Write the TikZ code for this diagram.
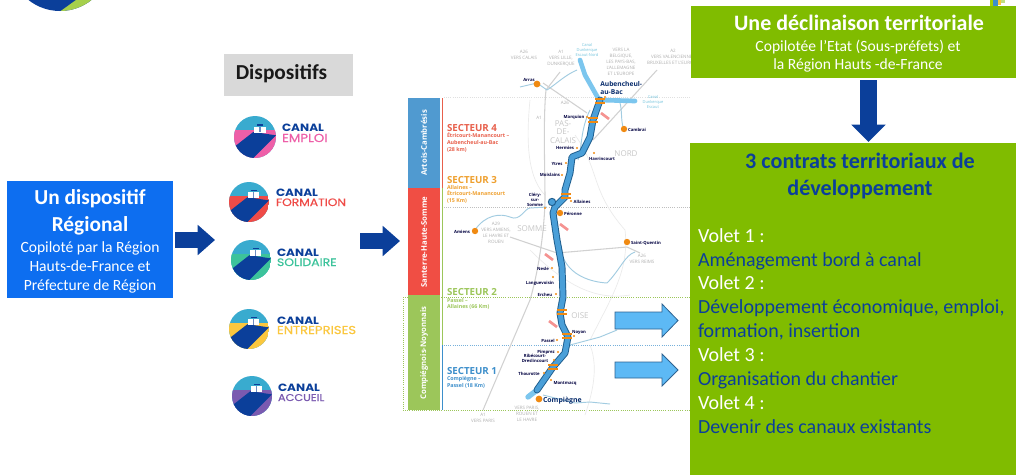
\documentclass[tikz,border=0pt]{standalone}
\usepackage{fontspec}
\setmainfont{Carlito}
\newfontfamily\logofont[FakeStretch=1.15]{Poppins}
\newfontfamily\logomed[FakeBold=0.5,FakeStretch=1.15]{Poppins}
\newfontfamily\mapfont{Open Sans}
\usetikzlibrary{arrows.meta}
\definecolor{cgreen}{HTML}{80BC00}
\definecolor{cblue}{HTML}{0D6EF0}
\definecolor{dkblue}{HTML}{0B3F9A}
\definecolor{sky}{HTML}{39ABCF}
\definecolor{lblue}{HTML}{A8DAF2}
\definecolor{cpink}{HTML}{EE5FA8}
\definecolor{cred}{HTML}{EF4B47}
\definecolor{cmint}{HTML}{3CC39B}
\definecolor{cyellow}{HTML}{FBC73E}
\definecolor{cpurple}{HTML}{7A5AB0}
\definecolor{sec4}{HTML}{E8604C}
\definecolor{sec3}{HTML}{EFA02F}
\definecolor{sec2}{HTML}{9CC65A}
\definecolor{sec1}{HTML}{3D8FCB}
\definecolor{mapgray}{HTML}{B0B0B0}
\definecolor{dot}{HTML}{F08A12}
\definecolor{arrowfill}{HTML}{5DB9F5}
\definecolor{arrowline}{HTML}{2F6391}
\definecolor{canalin}{HTML}{4A9FD8}
\definecolor{canalout}{HTML}{1F5E8E}
\definecolor{canallight}{HTML}{7CC6EE}
\tikzset{
  x=0.75pt,y=-0.75pt,
  flat/.style={fill=#1,draw=none},
  txt/.style={inner sep=0pt,outer sep=0pt,anchor=base,align=center},
  ltxt/.style={inner sep=0pt,outer sep=0pt,anchor=base west},
  h1/.style={txt,font=\bfseries\fontsize{16}{16}\selectfont,text=white},
  h2/.style={txt,font=\fontsize{11.7}{11.7}\selectfont,text=white},
  vol/.style={ltxt,font=\fontsize{15}{15}\selectfont,text=white},
  volb/.style={ltxt,font=\fontsize{15}{15}\selectfont,text=dkblue},
  bigarrow/.style={line width=12.5pt,draw=dkblue,-{Triangle[length=13pt,width=25pt]}},
  sidearrow/.style={line width=11.5pt,draw=dkblue,-{Triangle[length=13pt,width=22pt]}},
  lightarrow/.style={draw=arrowline,fill=arrowfill,line width=0.6pt,line join=miter},
  mp/.style={txt,anchor=center,font=\mapfont\fontsize{3.4}{4.6}\selectfont,text=mapgray},
  mn/.style={txt,font=\mapfont\bfseries\fontsize{3.2}{4}\selectfont,text=black!75!blue},
  sect/.style={ltxt,font=\mapfont\bfseries\fontsize{7.3}{7.3}\selectfont,text=#1},
  secd/.style={inner sep=0pt,outer sep=0pt,anchor=north west,align=left,font=\mapfont\bfseries\fontsize{4}{5.2}\selectfont,text=#1},
  barlabel/.style={inner sep=0pt,rotate=90,font=\mapfont\bfseries\fontsize{5.8}{5.8}\selectfont,text=white},
  road/.style={draw=black!18,line width=0.8pt,line join=round},
  river/.style={draw=lblue!85!gray,line width=0.7pt,line join=round},
  bound/.style={draw=black!8,line width=0.5pt},
  sepline/.style={densely dotted,line width=0.6pt,draw=#1},
}
\newcommand{\canallogo}[9]{%
  \begin{scope}
    \clip (#1,#2) circle (#3);
    \fill[sky] (#1-#3,#2-#3) rectangle (#1+#3,#2+#3);
    \fill[#4] (#1-#3,#2-0.32*#3) rectangle (#1+#3,#2+#3);
    \fill[dkblue] (#1-#3,#2+0.48*#3) -- (#1-0.08*#3,#2-0.24*#3) -- (#1+#3,#2-0.08*#3) -- (#1-0.08*#3,#2+#3) -- (#1-#3,#2+#3) -- cycle;
    \fill[white] (#1-0.03*#3,#2-0.5*#3) rectangle (#1+0.51*#3,#2-0.2*#3);
    \fill[dkblue] (#1+0.1*#3,#2-0.6*#3) rectangle (#1+0.38*#3,#2-0.53*#3);
    \fill[dkblue!60] (#1+0.21*#3,#2-0.5*#3) rectangle (#1+0.27*#3,#2-0.22*#3);
  \end{scope}
  \node[ltxt,font=\logofont\bfseries\fontsize{7.9}{8}\selectfont,text=dkblue] at (#6,#7) {CANAL};
  \node[ltxt,font=\logomed\fontsize{#9}{8}\selectfont,text=#4] at (#6,#8) {#5};
}
\newcommand{\mapdot}[3]{\fill[dot] (#1,#2) circle (#3);}
\begin{document}
\begin{tikzpicture}
\useasboundingbox (0,0) rectangle (1016,475);
\fill[white] (0,0) rectangle (1016,475);

% --- cropped logo, top left and top right
\begin{scope}
  \clip (0,0) rectangle (200,30);
  \fill[dkblue] (60,-39.6) circle (50.6);
  \clip (60,-39.6) circle (50.6);
  \fill[cgreen!70!white] (60,11.5) -- (76,0) -- (110,0) -- (110,12) -- cycle;
\end{scope}
\fill[cgreen!70!yellow] (990,0) rectangle (993,6);
\fill[sec1] (993,0) rectangle (998,6);
\fill[cyellow] (998,0) rectangle (1001,5);
\fill[cgreen!50!white] (1001,0) rectangle (1005,3);

% --- left box
\node[flat=cblue,minimum width=124.5pt,minimum height=87.75pt,inner sep=0pt,anchor=north west] (regional) at (7,181) {};
\node[h1] (reg1) at (90,204) {Un dispositif};
\node[h1] (reg2) at (90,231) {Régional};
\node[h2] (reg3) at (90,252) {Copiloté par la Région};
\node[h2] (reg4) at (90,271) {Hauts-de-France et};
\node[h2] (reg5) at (90,290) {Préfecture de Région};

\coordinate (a1s) at (175,240);
\coordinate (a1e) at (215,240);
\draw[sidearrow] (a1s) -- (a1e);
\coordinate (a2s) at (360,241);
\coordinate (a2e) at (400,241);
\draw[sidearrow] (a2s) -- (a2e);

% --- dispositifs
\node[flat=black!15,minimum width=96.75pt,minimum height=31.5pt,inner sep=0pt,anchor=north west] (dispbox) at (224,54) {};
\node[txt,font=\bfseries\fontsize{16}{16}\selectfont,text=black!90] (disp) at (281.5,79) {Dispositifs};
\canallogo{255}{137}{21}{cpink}{EMPLOI}{282}{131}{142}{8.7}
\canallogo{249}{202}{20}{cred}{FORMATION}{276}{196}{206}{8}
\canallogo{251}{260}{20}{cmint}{SOLIDAIRE}{277}{256}{266}{8.1}
\canallogo{249}{329}{20}{cyellow}{ENTREPRISES}{277}{324}{334}{8.6}
\canallogo{252}{396}{20}{cpurple}{ACCUEIL}{278}{391}{401}{7.4}

% --- map: bars
\fill[sec1!90!white] (408,98) rectangle (440,188);
\fill[cred!95!orange] (408,188) rectangle (440,295);
\fill[sec2] (408,295) rectangle (440,410);
\node[barlabel] (bar1) at (424,143) {Artois-Cambrésis};
\node[barlabel] (bar2) at (424,242) {Santerre-Haute-Somme};
\node[barlabel] (bar3) at (424,353) {Compiégnois-Noyonnais};
\draw[sec4,line width=0.7pt] (442.5,98) -- (442.5,188);
\draw[sec2,line width=0.7pt] (442.5,188) -- (442.5,345);
\draw[sec1,line width=0.8pt] (442.5,345) -- (442.5,410);
\draw[sepline=black!12] (444,97) -- (690,97);
\draw[sepline=black!25] (444,207) -- (690,207);
\draw[sepline=sec2] (403,297) -- (690,297);
\draw[sepline=sec1!70] (444,345) -- (690,345);
\draw[sepline=sec2] (403,410) -- (690,410);
\draw[sepline=sec2] (403,297) -- (403,410);

% --- map: faint boundaries
\draw[bound] (530,100) .. controls (525,150) and (530,180) .. (545,195);
\draw[bound] (575,135) .. controls (600,170) and (590,190) .. (625,230) .. controls (630,270) and (610,300) .. (590,340);
\draw[bound] (530,250) .. controls (570,290) and (600,300) .. (630,295);
\draw[bound] (590,345) .. controls (600,370) and (590,400) .. (585,415);

% --- map: roads
\draw[road] (560,72) -- (546,90) .. controls (543,120) and (545,170) .. (545,200) .. controls (544,240) and (536,280) .. (530,300) -- (483,410);
\draw[road] (543,83) -- (587,113);
\draw[road] (657,70) -- (625,105) -- (593,140);
\draw[road] (510,237) -- (557,253) -- (627,247);
\draw[road] (627,247) -- (640,253);

% --- map: rivers
\draw[river] (520,87) -- (537,83) -- (547,90) .. controls (555,85) and (565,75) .. (577,70);
\draw[river] (475,230) .. controls (485,215) and (500,213) .. (510,217) .. controls (520,222) and (525,208) .. (530,208) -- (547,207);
\draw[river] (563,257) .. controls (570,275) and (590,282) .. (607,283) .. controls (620,270) and (625,255) .. (635,252);
\draw[river] (570,345) -- (600,337) -- (617,330);
\draw[river] (543,395) -- (575,403) -- (590,402) -- (610,404);
\draw[river] (620,103) .. controls (622,110) and (621,120) .. (623,127);
\draw[river] (590,110) .. controls (580,130) and (582,150) .. (578,160);

% --- map: canal
\draw[canallight,line width=3.5pt,line cap=round] (635,101) -- (600,100);
\draw[canallight,line width=3.5pt,line cap=round,line join=round] (580,60) -- (585,75) -- (598,98);
\draw[canallight,line width=4pt,line cap=round] (537,390) -- (528,397);
\draw[canalout,line width=5.2pt,line join=round,line cap=round]
  (600,100) -- (593,120) -- (590,137) -- (582,153) -- (572,157) -- (570,173) -- (565,190) -- (565,197) -- (555,207) -- (553,213) -- (557,240) -- (560,256) -- (562,267) -- (563,297) -- (560,313) -- (562,325) -- (568,337) -- (565,353) -- (553,367) -- (537,390);
\draw[canalin,line width=3.8pt,line join=round,line cap=round]
  (600,100) -- (593,120) -- (590,137) -- (582,153) -- (572,157) -- (570,173) -- (565,190) -- (565,197) -- (555,207) -- (553,213) -- (557,240) -- (560,256) -- (562,267) -- (563,297) -- (560,313) -- (562,325) -- (568,337) -- (565,353) -- (553,367) -- (537,390);
\fill[canalout] (552,202) circle (4.2);
\fill[canalin] (552,202) circle (3);
% locks
\foreach \lx/\ly in {600/101,593/120,566/196,562/312,567/336,553/367}{
  \draw[dot,line width=0.9pt] (\lx-5,\ly-2) -- (\lx+5,\ly-2);
  \draw[dot,line width=0.9pt] (\lx-5,\ly+2) -- (\lx+5,\ly+2);
}
% pink works
\foreach \lx/\ly in {605/116,564/227,549/257,553/324}{
  \draw[cred!60!white,line width=2pt] (\lx-4,\ly-3) -- (\lx+4,\ly+3);
}

% --- map: dots
\mapdot{537}{84}{3.4}\mapdot{624}{129}{3.2}\mapdot{560}{213}{3.2}\mapdot{475}{231}{3.2}\mapdot{627}{242}{3.2}\mapdot{539}{399}{3.4}
\foreach \lx/\ly in {605/97,587/117,577/148,594/153,566/163,562/175,571/201,545/208,552/268,553/277,556/294,574/336,557/340,558/352,554/360,544/373,551/380}{
  \mapdot{\lx}{\ly}{1.2}
}

% --- map: grey labels
\node[mp] (m1) at (524,55) {A26\\VERS CALAIS};
\node[mp] (m2) at (561,58) {A1\\VERS LILLE,\\DUNKERQUE};
\node[mp] (m3) at (621,62) {VERS LA\\BELGIQUE,\\LES PAYS-BAS,\\L'ALLEMAGNE\\ET L'EUROPE};
\node[mp] (m4) at (673,57) {A2\\VERS VALENCIENNES\\BRUXELLES ET L'EUROPE};
\node[mp] (m5) at (565,103) {A26};
\node[mp] (m6) at (539,118) {A1};
\node[mp] (m7) at (496,233) {A29\\VERS AMIENS,\\LE HAVRE ET\\ROUEN};
\node[mp] (m8) at (642,259) {A26\\VERS REIMS};
\node[mp] (m9) at (483,418) {A1\\VERS PARIS};
\node[mp] (m10) at (527,414) {VERS PARIS,\\ROUEN ET\\LE HAVRE};
\node[mp,font=\mapfont\fontsize{6}{6.3}\selectfont,text=black!22] (d1) at (563,132) {PAS-\\DE-\\CALAIS};
\node[mp,font=\mapfont\fontsize{6}{6}\selectfont,text=black!22] (d2) at (626,154) {NORD};
\node[mp,font=\mapfont\fontsize{6}{6}\selectfont,text=black!22] (d3) at (532,229) {SOMME};
\node[mp,font=\mapfont\fontsize{6}{6}\selectfont,text=black!22] (d4) at (580,316) {OISE};
\node[mp,text=sky!70!white,font=\mapfont\fontsize{3}{4}\selectfont] (c1) at (587,50) {Canal\\Dunkerque\\Escaut-Nord};
\node[mp,text=sky!70!white,font=\mapfont\fontsize{3}{4}\selectfont] (c2) at (653,102) {Canal\\Dunkerque\\Escaut};

% --- map: town labels
\node[mn] (t1) at (529,81) {Arras};
\node[inner sep=0pt,anchor=north west,align=left,font=\mapfont\bfseries\fontsize{5}{6.2}\selectfont,text=dkblue!70!black] (t2) at (600,81) {Aubencheul-\\au-Bac};
\node[mn] (t3) at (574,118) {Marquion};
\node[mn] (t4) at (637,131) {Cambrai};
\node[mn] (t5) at (565,149) {Hermies};
\node[mn] (t6) at (602,160) {Havrincourt};
\node[mn] (t7) at (557,165) {Ytres};
\node[mn] (t8) at (550,176) {Moislains};
\node[mn] (t9) at (582,203) {Allaines};
\node[mn,anchor=center] (t10) at (535,200) {Cléry-\\sur-\\Somme};
\node[mn] (t11) at (573,215) {Péronne};
\node[mn] (t12) at (462,233) {Amiens};
\node[mn] (t13) at (646,244) {Saint-Quentin};
\node[mn] (t14) at (543,270) {Nesle};
\node[mn] (t15) at (540,284) {Languevoisin};
\node[mn] (t16) at (545,296) {Ercheu};
\node[mn] (t17) at (579,333) {Noyon};
\node[mn] (t18) at (548,342) {Passel};
\node[mn] (t19) at (546,353) {Pimprez};
\node[mn,anchor=center] (t20) at (535,358.5) {Ribécourt-\\Dreslincourt};
\node[mn] (t21) at (529,375) {Thourotte};
\node[mn] (t22) at (565,384) {Montmacq};
\node[ltxt,font=\mapfont\bfseries\fontsize{5.2}{5.2}\selectfont,text=dkblue!70!black] (t23) at (543,402) {Compiègne};

% --- map: sectors
\node[sect=sec4] (s4) at (447,131) {SECTEUR 4};
\node[secd=sec4] (s4d) at (447,133) {Étricourt-Manancourt –\\Aubencheul-au-Bac\\(28 km)};
\node[sect=sec3] (s3) at (447,183) {SECTEUR 3};
\node[secd=sec3] (s3d) at (447,185) {Allaines –\\Étricourt-Manancourt\\(15 Km)};
\node[sect=sec2] (s2) at (447,295) {SECTEUR 2};
\node[secd=sec2] (s2d) at (447,298) {Passel –\\Allaines (66 Km)};
\node[sect=sec1] (s1) at (447,374) {SECTEUR 1};
\node[secd=sec1] (s1d) at (447,376) {Compiègne –\\Passel (18 Km)};

% --- right boxes
\node[flat=cgreen,minimum width=243.75pt,minimum height=54pt,inner sep=0pt,anchor=north west] (top) at (691,6) {};
\node[h1,font=\bfseries\fontsize{16.5}{16.5}\selectfont] (top1) at (859,30) {Une déclinaison territoriale};
\node[h2] (top2) at (858,51) {Copilotée l’Etat (Sous-préfets) et};
\node[h2] (top3) at (858,69) {la Région Hauts -de-France};
\node[flat=cgreen,minimum width=244.5pt,minimum height=249pt,inner sep=0pt,anchor=north west] (contracts) at (690,143) {};
\coordinate (a3s) at (868.5,80);
\coordinate (a3e) at (868.5,142);
\draw[bigarrow] (a3s) -- (a3e);
\node[h1,font=\bfseries\fontsize{16.6}{16.6}\selectfont,text=dkblue] (c1t) at (860,168) {3 contrats territoriaux de};
\node[h1,font=\bfseries\fontsize{16.6}{16.6}\selectfont,text=dkblue] (c2t) at (860,195) {développement};
\node[vol] (v1) at (698,242) {Volet 1 :};
\node[volb] (v1b) at (698,266) {Aménagement bord à canal};
\node[vol] (v2) at (698,289) {Volet 2 :};
\node[volb] (v2b) at (698,313) {Développement économique, emploi,};
\node[volb] (v2c) at (698,337) {formation, insertion};
\node[vol] (v3) at (698,361) {Volet 3 :};
\node[volb] (v3b) at (698,385) {Organisation du chantier};
\node[vol] (v4) at (698,409) {Volet 4 :};
\node[volb] (v4b) at (698,433) {Devenir des canaux existants};

% --- light arrows
\draw[lightarrow] (615,312) -- (662,312) -- (662,304) -- (678,320.5) -- (662,337) -- (662,329) -- (615,329) -- cycle;
\draw[lightarrow] (615,362) -- (662,362) -- (662,354) -- (678,370) -- (662,386) -- (662,378) -- (615,378) -- cycle;
\end{tikzpicture}
\end{document}
